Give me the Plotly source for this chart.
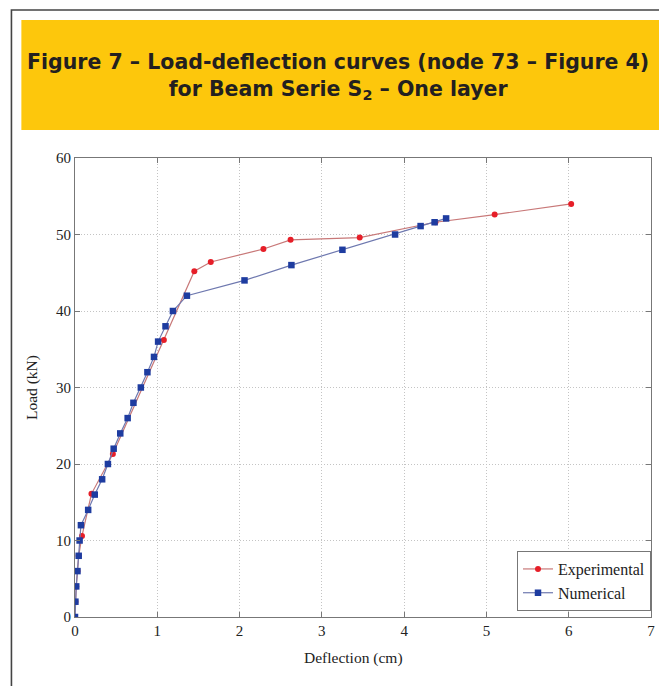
import plotly.graph_objects as go

# Experimental (red circles)
exp_x = [0, 0.005, 0.015, 0.03, 0.045, 0.085, 0.20, 0.46, 1.08, 1.45, 1.65, 2.29, 2.62, 3.46, 4.38, 5.10, 6.03]
exp_y = [0, 2, 4, 6, 8, 10.6, 16.1, 21.3, 36.2, 45.2, 46.4, 48.1, 49.3, 49.6, 51.6, 52.6, 54.0]

# Numerical (blue squares)
num_x = [0, 0.005, 0.015, 0.03, 0.045, 0.056, 0.072, 0.16, 0.24, 0.33, 0.40, 0.47, 0.55, 0.64, 0.71,
         0.80, 0.88, 0.96, 1.01, 1.10, 1.19, 1.36, 2.06, 2.63, 3.25, 3.89, 4.20, 4.37, 4.51]
num_y = [0, 2, 4, 6, 8, 10, 12, 14, 16, 18, 20, 22, 24, 26, 28,
         30, 32, 34, 36, 38, 40, 42, 44, 46, 48, 50, 51.1, 51.6, 52.1]

x_ticks = [0, 1, 2, 3, 4, 5, 6, 7]
y_ticks = [0, 10, 20, 30, 40, 50, 60]

W, H = 659, 686
L, R, T, B = 75, 655, 158, 617
pw, ph = R - L, B - T

def px(x):
    return (x - L) / pw

def py(y):
    return (B - y) / ph

fig = go.Figure()
fig.add_trace(go.Scatter(
    x=exp_x, y=exp_y, mode="lines+markers", name="Experimental",
    line=dict(color="rgb(200,120,120)", width=1.2),
    marker=dict(symbol="circle", size=6, color="rgb(230,30,40)"),
))
fig.add_trace(go.Scatter(
    x=num_x, y=num_y, mode="lines+markers", name="Numerical",
    line=dict(color="rgb(110,120,175)", width=1.2),
    marker=dict(symbol="square", size=6.5, color="rgb(30,60,160)"),
))

serif = "Liberation Serif, Times New Roman, serif"

fig.update_layout(
    width=W, height=H,
    margin=dict(l=L, r=W - R, t=T, b=H - B),
    paper_bgcolor="white", plot_bgcolor="white",
    showlegend=True,
    legend=dict(x=1, y=0.013, xanchor="right", yanchor="bottom",
                bordercolor="#777", borderwidth=1, bgcolor="white",
                font=dict(family=serif, size=16, color="#222"),
                tracegroupgap=0, itemwidth=30),
    shapes=[
        dict(type="rect", xref="paper", yref="paper",
             x0=px(11), x1=px(720), y0=py(10), y1=py(720),
             line=dict(color="#444", width=1.6), fillcolor="rgba(0,0,0,0)", layer="below"),
        dict(type="rect", xref="paper", yref="paper",
             x0=px(21), x1=px(700), y0=py(20), y1=py(130),
             line=dict(width=0), fillcolor="#FDC70C", layer="below"),
    ],
    annotations=[
        dict(xref="paper", yref="paper", x=px(340), y=py(77), xanchor="center", yanchor="middle",
             text="Figure 7 – Load-deflection curves (node 73 – Figure 4)<br>for Beam Serie S<sub>2</sub> – One layer",
             showarrow=False, align="center",
             font=dict(family="DejaVu Sans", size=20.5, color="#231f20", weight="bold")),
        dict(xref="paper", yref="paper", x=px(355), y=py(658), xanchor="center", yanchor="middle",
             text="Deflection (cm)", showarrow=False,
             font=dict(family=serif, size=15.5, color="#222")),
    ],
)

fig.update_xaxes(
    range=[0, 7], tickvals=x_ticks, ticktext=[str(v) for v in x_ticks],
    showline=True, linecolor="#777", linewidth=1, mirror="ticks",
    ticks="inside", ticklen=5, tickcolor="#777",
    showgrid=True, gridcolor="#c4c4c4", griddash="1px,2px", gridwidth=1,
    zeroline=False, ticklabeloverflow="allow",
    tickfont=dict(family=serif, size=15, color="#222"),
)
fig.update_yaxes(
    range=[0, 60], tickvals=y_ticks, ticktext=[str(v) for v in y_ticks],
    showline=True, linecolor="#777", linewidth=1, mirror="ticks",
    ticks="inside", ticklen=5, tickcolor="#777",
    showgrid=True, gridcolor="#c4c4c4", griddash="1px,2px", gridwidth=1,
    zeroline=False, ticklabeloverflow="allow",
    tickfont=dict(family=serif, size=15, color="#222"),
    title=dict(text="Load (kN)", font=dict(family=serif, size=15.5, color="#222"), standoff=14),
)

fig.write_html("out.html")
